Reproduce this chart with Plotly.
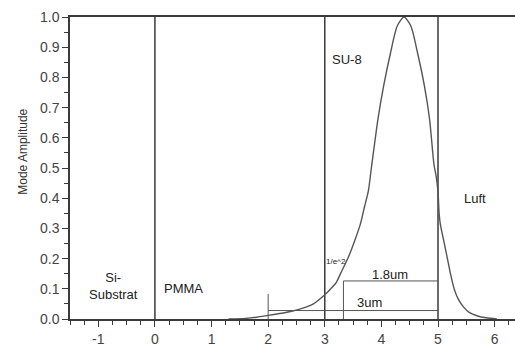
import plotly.graph_objects as go

# Mode profile (position in um, normalized amplitude)
mode_x = [1.3, 1.6, 1.8, 2.0, 2.2, 2.4, 2.6, 2.8, 3.0, 3.09, 3.2, 3.28, 3.42, 3.53, 3.63, 3.70,
          3.77, 3.83, 3.94, 4.04, 4.16, 4.28, 4.40, 4.52, 4.64, 4.76, 4.85, 4.93, 4.97, 5.0,
          5.02, 5.04, 5.1, 5.16, 5.22, 5.29, 5.36, 5.45, 5.55, 5.7, 5.85, 6.04]
mode_y = [0.0, 0.002, 0.006, 0.012, 0.018, 0.025, 0.035, 0.05, 0.08, 0.097, 0.12, 0.151, 0.206, 0.26, 0.315, 0.37,
          0.424, 0.51, 0.663, 0.772, 0.88, 0.97, 1.0, 0.97, 0.88, 0.772, 0.663, 0.51, 0.47, 0.42,
          0.35, 0.315, 0.26, 0.206, 0.15, 0.097, 0.065, 0.04, 0.022, 0.01, 0.004, 0.0]

# Layer boundaries
boundaries = [0, 3, 5]

# Width markers
w18_x = [3.33, 3.33, 5.0]
w18_y = [0.0, 0.126, 0.126]
w3_x = [2.0, 2.0, None, 2.0, 5.0]
w3_y = [0.083, 0.0, None, 0.028, 0.028]

# Labels
layer_labels = ["Si-<br>Substrat", "PMMA", "SU-8", "Luft"]
layer_lx = [-0.73, 0.5, 3.39, 5.66]
layer_ly = [0.11, 0.10, 0.86, 0.40]
dim_labels = ["1/e^2", "1.8um", "3um"]
dim_lx = [3.19, 4.16, 3.79]
dim_ly = [0.19, 0.147, 0.053]

line_col = "#3a3a3a"
font = "Liberation Sans, Arial, sans-serif"

fig = go.Figure()
for b in boundaries:
    fig.add_trace(go.Scatter(x=[b, b], y=[0, 1], mode="lines",
                             line=dict(color=line_col, width=1.5), hoverinfo="skip"))
fig.add_trace(go.Scatter(x=w18_x, y=w18_y, mode="lines",
                         line=dict(color="#555555", width=1), hoverinfo="skip"))
fig.add_trace(go.Scatter(x=w3_x, y=w3_y, mode="lines",
                         line=dict(color="#555555", width=1), hoverinfo="skip"))
fig.add_trace(go.Scatter(x=mode_x, y=mode_y, mode="lines",
                         line=dict(color="#555555", width=1.4, shape="spline", smoothing=0.7)))

for t, x, y in zip(layer_labels, layer_lx, layer_ly):
    fig.add_annotation(x=x, y=y, text=t, showarrow=False,
                       font=dict(family=font, size=13, color="#222222"))
sizes = [8, 13, 13]
for t, x, y, s in zip(dim_labels, dim_lx, dim_ly, sizes):
    fig.add_annotation(x=x, y=y, text=t, showarrow=False,
                       font=dict(family=font, size=s, color="#222222"))

fig.add_annotation(x=-0.125, y=0.555, xref="paper", yref="paper", text="Mode Amplitude",
                   textangle=-90, showarrow=False,
                   font=dict(family=font, size=12, color="#333333"))

fig.update_layout(
    width=515, height=347,
    margin=dict(l=70, r=0, t=17, b=24),
    paper_bgcolor="white", plot_bgcolor="white",
    showlegend=False,
    font=dict(family=font, size=14, color="#444444"),
    xaxis=dict(range=[-1.5, 6.36], tickmode="array", tickvals=[-1, 0, 1, 2, 3, 4, 5, 6],
               ticktext=["-1", "0", "1", "2", "3", "4", "5", "6"],
               showgrid=False, zeroline=False, showline=True, linecolor=line_col, linewidth=1.5,
               mirror=True, ticks="outside", ticklen=6, tickcolor=line_col, tickwidth=1.2,
               minor=dict(dtick=0.25, tick0=0, ticks="outside", ticklen=4, tickcolor=line_col, showgrid=False),
               tickfont=dict(size=14, color="#444444")),
    yaxis=dict(range=[0, 1], dtick=0.1, tick0=0, tickformat=".1f",
               showgrid=False, zeroline=False, showline=True, linecolor=line_col, linewidth=1.5,
               ticks="outside", ticklen=6, tickcolor=line_col, tickwidth=1.2,
               minor=dict(dtick=0.05, ticks="outside", ticklen=4, tickcolor=line_col, showgrid=False),
               tickfont=dict(size=14, color="#444444")),
)

fig.write_html("out.html")
